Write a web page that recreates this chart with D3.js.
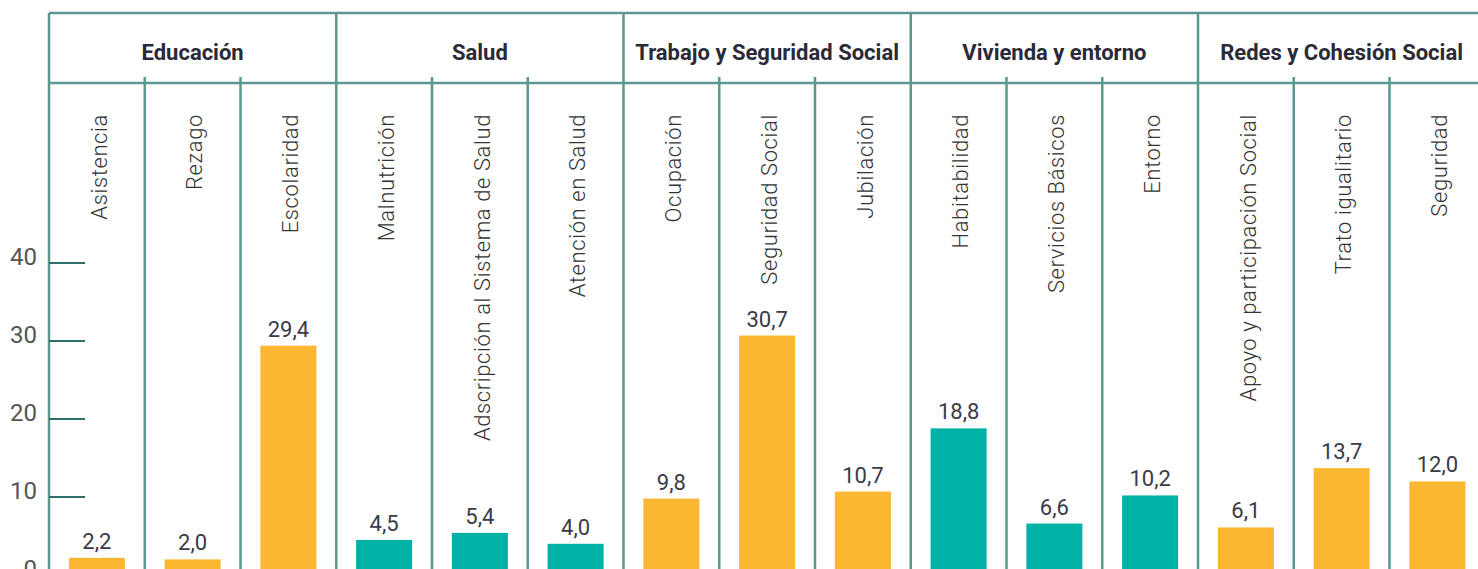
<!DOCTYPE html>
<html>
<head>
<meta charset="utf-8">
<script src="https://cdn.jsdelivr.net/npm/d3@7"></script>
<style>
  body { margin: 0; background: #fff; }
  svg { display: block; }
</style>
</head>
<body>
<svg id="chart"></svg>
<script>
// group titles, indicators and values (percent)
var groups = ["Educación", "Salud", "Trabajo y Seguridad Social", "Vivienda y entorno", "Redes y Cohesión Social"]
var indicators = [
  "Asistencia", "Rezago", "Escolaridad",
  "Malnutrición", "Adscripción al Sistema de Salud", "Atención en Salud",
  "Ocupación", "Seguridad Social", "Jubilación",
  "Habitabilidad", "Servicios Básicos", "Entorno",
  "Apoyo y participación Social", "Trato igualitario", "Seguridad"
]
var groupOf = [0, 0, 0, 1, 1, 1, 2, 2, 2, 3, 3, 3, 4, 4, 4]
var values = [2.2, 2.0, 29.4, 4.5, 5.4, 4.0, 9.8, 30.7, 10.7, 18.8, 6.6, 10.2, 6.1, 13.7, 12.0]
var yTicks = [0, 10, 20, 30, 40]

var width = 1478, height = 569
var lineColor = "#5b9892", tickColor = "#2f6f69"
var colors = ["#fbb632", "#00b2a6"]

var svg = d3.select("#chart").attr("width", width).attr("height", height)

var left = 49, colW = 95.75
var x = d3.scaleBand()
  .domain(indicators)
  .range([left, left + colW * indicators.length])
  .padding(0)
var gx = d3.scaleBand()
  .domain(groups)
  .range([left, left + colW * indicators.length])
  .padding(0)

var y = d3.scaleLinear().domain([0, 40]).range([575, 263])

var topY = 13, headY = 83
var fmt = function(v) { return d3.format(".1f")(v).replace(".", ",") }

// bars
var barW = x.bandwidth() * 0.585
svg.append("g").selectAll("rect")
  .data(values)
  .enter().append("rect")
    .attr("x", (d, i) => x(indicators[i]) + (x.bandwidth() - barW) / 2)
    .attr("y", d => y(d))
    .attr("width", barW)
    .attr("height", d => y(0) - y(d))
    .attr("fill", (d, i) => colors[groupOf[i] % 2])

// value labels
svg.append("g").selectAll("text")
  .data(values)
  .enter().append("text")
    .attr("x", (d, i) => x(indicators[i]) + x.bandwidth() / 2)
    .attr("y", d => y(d) - 9)
    .attr("text-anchor", "middle")
    .style("font-family", "Roboto, sans-serif")
    .style("font-size", "22px")
    .style("fill", "#3a3a48")
    .text(fmt)

// frame: top line, header line
var frame = svg.append("g")
  .attr("stroke", lineColor)
  .attr("stroke-width", 2.5)
frame.append("line").attr("x1", left).attr("x2", width).attr("y1", topY).attr("y2", topY)
frame.append("line").attr("x1", left).attr("x2", width).attr("y1", headY).attr("y2", headY)

// group dividers (full height)
frame.selectAll(".gdiv")
  .data(groups)
  .enter().append("line")
    .attr("class", "gdiv")
    .attr("x1", d => gx(d)).attr("x2", d => gx(d))
    .attr("y1", topY).attr("y2", height)

// column dividers inside groups
frame.selectAll(".cdiv")
  .data(indicators.filter((d, i) => i % 3 !== 0))
  .enter().append("line")
    .attr("class", "cdiv")
    .attr("x1", d => x(d)).attr("x2", d => x(d))
    .attr("y1", headY - 6).attr("y2", height)

// group titles
svg.append("g").selectAll("text")
  .data(groups)
  .enter().append("text")
    .attr("x", d => gx(d) + gx.bandwidth() / 2)
    .attr("y", 52)
    .attr("dy", "0.35em")
    .attr("text-anchor", "middle")
    .style("font-family", "Roboto, sans-serif")
    .style("font-weight", "bold")
    .style("font-size", "22px")
    .style("fill", "#2a2a38")
    .text(d => d)

// rotated indicator labels
svg.append("g").selectAll("text")
  .data(indicators)
  .enter().append("text")
    .attr("transform", d => "translate(" + (x(d) + x.bandwidth() / 2 + 2) + ",114) rotate(-90)")
    .attr("dy", "0.35em")
    .attr("text-anchor", "end")
    .style("font-family", "Roboto, sans-serif")
    .style("font-weight", 300)
    .style("font-size", "22px")
    .style("letter-spacing", "0.6px")
    .style("fill", "#333")
    .text(d => d)

// y axis ticks and labels (labels sit a little above their ticks)
var yAxis = d3.axisLeft(y).tickValues(yTicks).tickSize(0).tickPadding(0)
var ya = svg.append("g")
  .attr("transform", "translate(37,-6)")
  .call(yAxis)
ya.select(".domain").remove()
ya.selectAll("text")
  .style("font-family", "Roboto, sans-serif")
  .style("font-size", "24px")
  .style("fill", "#555")

svg.append("g").selectAll("line")
  .data(yTicks)
  .enter().append("line")
    .attr("x1", left).attr("x2", left + 36)
    .attr("y1", d => y(d)).attr("y2", d => y(d))
    .attr("stroke", tickColor)
    .attr("stroke-width", 2)
</script>
</body>
</html>
